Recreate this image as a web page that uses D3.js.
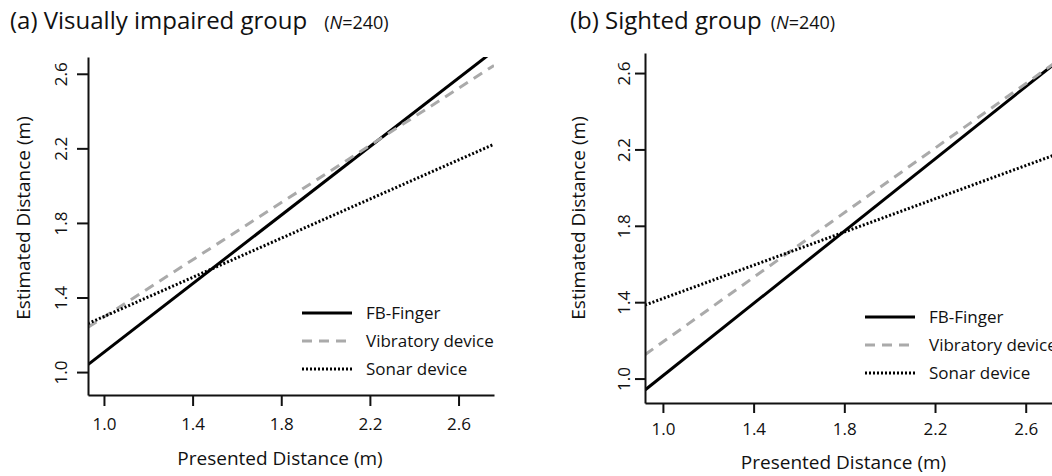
<!DOCTYPE html>
<html>
<head>
	<title>Estimated vs presented distance</title>
	<script src="https://cdn.jsdelivr.net/npm/d3@7"></script>
	<style>
		body { margin: 0; background: #fff; overflow: hidden; }
		text { font-family: "Open Sans", sans-serif; fill: #111; }
	</style>
</head>
<body>
<div id="content"></div>

<script type="text/javascript">
	// values: estimated distance at the two ends of each fitted line
	var seriesNames = ['FB-Finger', 'Vibratory device', 'Sonar device'];
	var tickValues = [1.0, 1.4, 1.8, 2.2, 2.6];

	var impairedX = [0.928, 2.76];
	var impairedFinger = [1.04, 2.724];
	var impairedVibratory = [1.24, 2.645];
	var impairedSonar = [1.26, 2.222];

	var sightedX = [0.921, 2.76];
	var sightedFinger = [0.94, 2.68];
	var sightedVibratory = [1.125, 2.68];
	var sightedSonar = [1.385, 2.185];

	var styles = [
		{ stroke: '#000', dash: null, width: 3 },
		{ stroke: '#aaa', dash: '10,7', width: 3 },
		{ stroke: '#000', dash: '2,2', width: 3 }
	];

	var svg = d3.select('#content')
		.append('svg')
		.attr('width', 1052)
		.attr('height', 476);

	function drawPanel(p) {
		var x = d3.scaleLinear().domain(p.xDomain).range([p.left, p.right]);
		var y = d3.scaleLinear().domain(p.yDomain).range([p.bottom, p.top]);
		var g = svg.append('g');

		g.append('clipPath').attr('id', p.id)
			.append('rect')
			.attr('x', p.left).attr('y', p.top)
			.attr('width', p.right - p.left).attr('height', p.bottom - p.top);

		var line = d3.line()
			.x(d => x(d[0]))
			.y(d => y(d[1]));

		p.series.forEach(function (vals, i) {
			var pts = p.xs.map((v, j) => [v, vals[j]]);
			g.append('path')
				.attr('d', line(pts))
				.attr('clip-path', 'url(#' + p.id + ')')
				.attr('fill', 'none')
				.attr('stroke', styles[i].stroke)
				.attr('stroke-width', styles[i].width)
				.attr('stroke-dasharray', styles[i].dash);
		});

		// axes
		var xAxis = g.append('g')
			.attr('transform', 'translate(0,' + p.bottom + ')')
			.call(d3.axisBottom(x).tickValues(tickValues).tickFormat(d3.format('.1f'))
				.tickSize(p.tick).tickSizeOuter(0));
		var yAxis = g.append('g')
			.attr('transform', 'translate(' + p.left + ',0)')
			.call(d3.axisLeft(y).tickValues(tickValues).tickFormat(d3.format('.1f'))
				.tickSize(p.tick).tickSizeOuter(0));

		[xAxis, yAxis].forEach(function (a) {
			a.select('.domain').attr('stroke', '#111').attr('stroke-width', 2);
			a.selectAll('.tick line').attr('stroke', '#111').attr('stroke-width', 2);
			a.selectAll('.tick text').style('font-family', '"Open Sans", sans-serif')
				.style('font-size', '17px').attr('fill', '#111');
		});
		xAxis.selectAll('.tick text').attr('y', p.xLabelGap).attr('dy', '0.72em');
		yAxis.selectAll('.tick text')
			.attr('text-anchor', 'middle')
			.attr('x', 0).attr('dy', 0)
			.attr('transform', 'translate(' + (-p.yLabelGap) + ',0) rotate(-90)');

		// axis titles
		g.append('text')
			.attr('x', (p.left + p.right) / 2 + p.xTitleShift)
			.attr('y', p.xTitleY)
			.attr('text-anchor', 'middle')
			.style('font-size', '19px')
			.text('Presented Distance (m)');
		g.append('text')
			.attr('transform', 'translate(' + p.yTitleX + ',' + 218 + ') rotate(-90)')
			.attr('text-anchor', 'middle')
			.style('font-size', '19px')
			.text('Estimated Distance (m)');

		// panel title
		var t = g.append('text').attr('x', p.titleX).attr('y', 29);
		t.append('tspan').style('font-size', '24px').text(p.title);
		t.append('tspan').style('font-size', '18px').attr('dx', p.nGap).text('(');
		t.append('tspan').style('font-size', '18px').style('font-style', 'italic').text('N');
		t.append('tspan').style('font-size', '18px').text('=240)');

		// legend
		seriesNames.forEach(function (name, i) {
			var ly = p.legendY + i * 28;
			g.append('line')
				.attr('x1', p.legendX).attr('x2', p.legendX + 50)
				.attr('y1', ly).attr('y2', ly)
				.attr('stroke', styles[i].stroke)
				.attr('stroke-width', styles[i].width)
				.attr('stroke-dasharray', styles[i].dash);
			g.append('text')
				.attr('x', p.legendX + 64).attr('y', ly)
				.attr('dy', '0.35em')
				.style('font-size', '17px')
				.text(name);
		});
	}

	drawPanel({
		id: 'clipA', title: '(a) Visually impaired group', titleX: 10, nGap: 17,
		xDomain: [0.928, 2.76], yDomain: [0.877, 2.69],
		left: 88, right: 494, top: 57, bottom: 395, tick: 11,
		xLabelGap: 23, yLabelGap: 21, xTitleY: 465,
		xs: impairedX, series: [impairedFinger, impairedVibratory, impairedSonar],
		xTitleShift: -11, yTitleX: 30,
		legendX: 302, legendY: 313
	});

	drawPanel({
		id: 'clipB', title: '(b) Sighted group', titleX: 570, nGap: 9,
		xDomain: [0.921, 2.76], yDomain: [0.872, 2.705],
		left: 645, right: 1062, top: 53, bottom: 403, tick: 10,
		xLabelGap: 20, yLabelGap: 15, xTitleY: 469,
		xs: sightedX, series: [sightedFinger, sightedVibratory, sightedSonar],
		xTitleShift: -10, yTitleX: 585,
		legendX: 865, legendY: 317
	});
</script>
</body>
</html>
